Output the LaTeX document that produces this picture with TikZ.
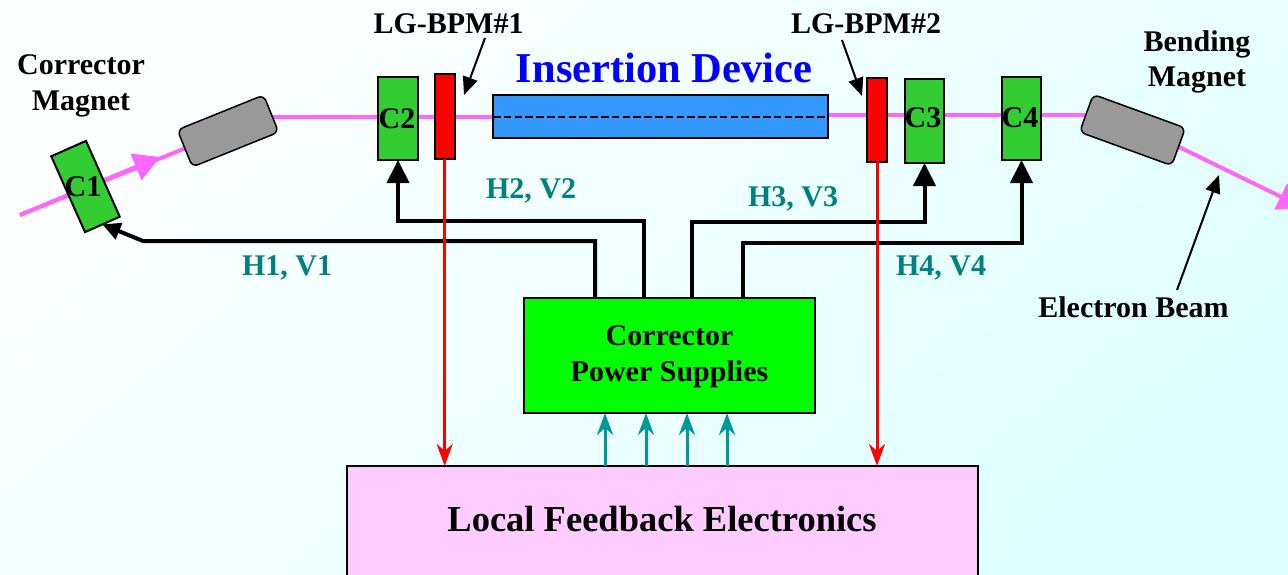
\documentclass[tikz,border=0pt]{standalone}
\usepackage{fontspec}
\setmainfont{Liberation Serif}
\usetikzlibrary{arrows.meta,backgrounds}
\pgfdeclarelayer{beamlayer}
\pgfsetlayers{background,beamlayer,main}
\definecolor{bgA}{HTML}{FDFFFF}
\definecolor{bgB}{HTML}{DFFFFF}
\definecolor{beamc}{HTML}{FF66FF}
\definecolor{corr}{HTML}{33CC33}
\definecolor{magc}{HTML}{999999}
\definecolor{idc}{HTML}{3399FF}
\definecolor{psc}{HTML}{00FF00}
\definecolor{lfec}{HTML}{FFCCFF}
\definecolor{labc}{HTML}{008080}
\definecolor{sigc}{HTML}{009999}
\definecolor{titlec}{HTML}{0000FF}
\tikzset{
  x=1pt,y=-1pt,
  blk/.style={draw=black,line width=2pt,inner sep=0pt,outer sep=0pt},
  corrbox/.style={blk,fill=corr,minimum width=39pt,minimum height=83pt},
  bpmbox/.style={blk,fill=red,minimum width=20pt,minimum height=85pt},
  magbox/.style={blk,line width=1.5pt,fill=magc,rounded corners=6pt,minimum height=40pt},
  txt/.style={inner sep=0pt,outer sep=0pt,font=\fontsize{30}{36}\selectfont\bfseries,align=center},
  btxt/.style={txt,anchor=base},
  lab/.style={btxt,text=labc},
  beamline/.style={draw=beamc,line width=4pt},
  beamhead/.style={-{Triangle[length=26pt,width=28pt,fill=beamc]}},
  power/.style={line width=4pt,draw=black,line join=miter,-{Triangle[length=23pt,width=22pt]}},
  powersmall/.style={line width=4pt,draw=black,line join=miter,-{Triangle[length=18pt,width=17pt]}},
  pointer/.style={line width=2pt,draw=black,-{Triangle[length=18pt,width=15pt]}},
  bpmsig/.style={line width=3pt,draw=red,-{Stealth[length=22pt,width=16pt,inset=7pt]}},
  fbsig/.style={line width=3pt,draw=sigc,-{Stealth[length=22pt,width=16pt,inset=7pt]}},
}
\begin{document}
\begin{tikzpicture}
\useasboundingbox (0,0) rectangle (1288,574);
\clip (0,0) rectangle (1288,574);
\begin{pgfonlayer}{background}
\shade[top color=bgA,bottom color=bgB,shading angle=40] (0,0) rectangle (1288,574);
\end{pgfonlayer}

% boxes
\node[corrbox,rotate=24,minimum width=38pt] (C1) at (85.5,186.5) {};
\node[corrbox,minimum width=40pt] (C2) at (398,118.5) {};
\node[corrbox,minimum height=84pt] (C3) at (924.5,121) {};
\node[corrbox] (C4) at (1021.5,118.5) {};
\node[bpmbox] (bpm1) at (444.7,116.5) {};
\node[bpmbox,minimum height=84pt] (bpm2) at (877,120) {};
\node[magbox,rotate=22,minimum width=93pt] (M1) at (228,131) {};
\node[magbox,rotate=-20,minimum width=98pt] (M2) at (1132.5,130) {};
\node[blk,fill=idc,minimum width=335pt,minimum height=43pt] (ID) at (660.5,116.5) {};
\node[blk,line width=2.5pt,fill=psc,minimum width=291pt,minimum height=115pt] (PS) at (669.5,355.5) {};
\node[blk,line width=2.5pt,fill=lfec,minimum width=631pt,minimum height=124pt] (LFE) at (662.5,528) {};

% helper coordinates
\coordinate (b0) at (20,215);
\coordinate (a1) at (160,157);
\coordinate (b1) at (270,117);
\coordinate (b2) at (1095,115);
\coordinate (b3) at (1304,208);
\coordinate (h1) at (595,241);
\coordinate (h1b) at (143,241);
\coordinate (h2) at (644,221);
\coordinate (h3) at (692,222);
\coordinate (h4) at (743,243);
\coordinate (t1) at (605,440);
\coordinate (t2) at (646,440);
\coordinate (t3) at (687,440);
\coordinate (t4) at (727,440);
\coordinate (p1s) at (485,38);
\coordinate (p1e) at (464,95);
\coordinate (p2s) at (842,40);
\coordinate (p2e) at (862,96);
\coordinate (p3s) at (1177,290);
\coordinate (p3e) at (1219,175);

% beam, behind the magnets
\begin{pgfonlayer}{beamlayer}
\draw[beamline] (b0) -- (M1.west);
\draw[beamline,beamhead] (b0) -- (a1);
\draw[beamline] (b1) -- (ID.west |- b1);
\draw[beamline] (ID.east |- b2) -- (b2);
\draw[beamline,beamhead] (M2.east) -- (b3);
\end{pgfonlayer}
\draw[black,line width=2pt,dash pattern=on 7.5pt off 3.3pt] (ID.west) -- (ID.east);

% power lines
\draw[powersmall] (PS.north -| h1) -- (h1) -- (h1b) -- (C1.south);
\draw[power] (PS.north -| h2) -- (h2) -| (C2.south);
\draw[power] (PS.north -| h3) -- (h3) -| (C3.south);
\draw[power] (PS.north -| h4) -- (h4) -| (C4.south);

% signals
\draw[bpmsig] (bpm1.south) -- (bpm1.south |- LFE.north);
\draw[bpmsig] (bpm2.south) -- (bpm2.south |- LFE.north);
\draw[fbsig] (LFE.north -| t1) -- (PS.south -| t1);
\draw[fbsig] (LFE.north -| t2) -- (PS.south -| t2);
\draw[fbsig] (LFE.north -| t3) -- (PS.south -| t3);
\draw[fbsig] (LFE.north -| t4) -- (PS.south -| t4);

% pointers
\draw[pointer] (p1s) -- (p1e);
\draw[pointer] (p2s) -- (p2e);
\draw[pointer] (p3s) -- (p3e);

% texts
\node[btxt] (tC1) at (83,196) {C1};
\node[btxt] (tC2) at (397,128) {C2};
\node[btxt] (tC3) at (923,127) {C3};
\node[btxt] (tC4) at (1020,127) {C4};
\node[btxt] (tcm1) at (81,74) {Corrector};
\node[btxt] (tcm2) at (81,110) {Magnet};
\node[btxt] (tbm1) at (1197,51) {Bending};
\node[btxt] (tbm2) at (1197,86) {Magnet};
\node[btxt] (tl1) at (448.5,33) {LG-BPM\#1};
\node[btxt] (tl2) at (866,33) {LG-BPM\#2};
\node[btxt,font=\fontsize{42.5}{48}\selectfont\bfseries,text=titlec] (tid) at (664,82) {Insertion Device};
\node[lab] (thv1) at (287,275) {H1, V1};
\node[lab] (thv2) at (531,198) {H2, V2};
\node[lab] (thv3) at (793,206) {H3, V3};
\node[lab] (thv4) at (941,275) {H4, V4};
\node[btxt] (teb) at (1133.5,317) {Electron Beam};
\node[btxt] (tps1) at (669.5,345) {Corrector};
\node[btxt] (tps2) at (669.5,381) {Power Supplies};
\node[btxt,font=\fontsize{36.5}{42}\selectfont\bfseries] (tlfe) at (662,531) {Local Feedback Electronics};
\end{tikzpicture}
\end{document}
